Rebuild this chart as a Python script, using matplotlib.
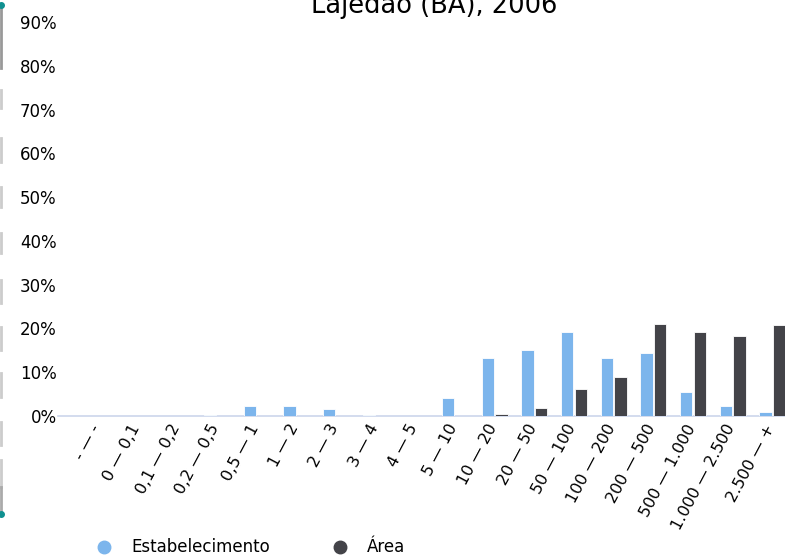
import matplotlib.pyplot as plt
import matplotlib.transforms as mtransforms
import numpy as np
from matplotlib.lines import Line2D

# faixas de area (ha)
categories = ['- — -', '0 — 0,1', '0,1 — 0,2', '0,2 — 0,5', '0,5 — 1', '1 — 2',
              '2 — 3', '3 — 4', '4 — 5', '5 — 10', '10 — 20', '20 — 50',
              '50 — 100', '100 — 200', '200 — 500', '500 — 1.000',
              '1.000 — 2.500', '2.500 — +']
estabelecimento = [0, 0, 0, 0.3, 2.3, 2.3, 1.6, 0.3, 0, 4.1, 13.2, 15.1,
                   19.1, 13.2, 14.5, 5.5, 2.3, 0.9]
area = [0, 0, 0, 0, 0, 0, 0, 0, 0, 0, 0.4, 1.8,
        6.1, 8.9, 21.0, 19.2, 18.3, 20.7]
yticks = [0, 10, 20, 30, 40, 50, 60, 70, 80, 90]

blue = '#7cb5ec'
dark = '#434348'

W, H = 785, 555
fig = plt.figure(figsize=(W / 100, H / 100), dpi=100)
ax = fig.add_axes([58 / W, 1 - 416 / H, (785 - 58) / W, (416 - 22) / H])

x = np.arange(len(categories))
bw = 0.31
ax.bar(x - bw / 2 - 0.02, estabelecimento, bw, color=blue, edgecolor='white', linewidth=0.6, zorder=3)
ax.bar(x + bw / 2 + 0.02, area, bw, color=dark, edgecolor='white', linewidth=0.6, zorder=3)

ax.set_xlim(-1.01, 17.32)
ax.set_ylim(0, 90)
ax.set_yticks(yticks)
ax.set_yticklabels([f'{v}%' for v in yticks], fontsize=12)
ax.set_xticks(x)
ax.set_xticklabels(categories, rotation=62, ha='right', rotation_mode='anchor', fontsize=11.5)
ax.tick_params(length=0, pad=4)
ax.tick_params(axis='y', pad=1)
shift = mtransforms.ScaledTranslation(-0.08, 0.0, fig.dpi_scale_trans)
for lab in ax.get_xticklabels():
    lab.set_transform(lab.get_transform() + shift)
for s in ['top', 'right', 'left']:
    ax.spines[s].set_visible(False)
ax.spines['bottom'].set_color('#ccd6eb')
ax.spines['bottom'].set_linewidth(1.2)
ax.patch.set_alpha(0)

fig.text(434 / W, 1 - 13 / H, 'Lajedão (BA), 2006', fontsize=18.5, ha='center', va='baseline')

# legenda
fig.add_artist(Line2D([104 / W], [1 - 547 / H], marker='o', markersize=9, color=blue, linestyle=''))
fig.text(131 / W, 1 - 547 / H, 'Estabelecimento', fontsize=12, va='center')
fig.add_artist(Line2D([340 / W], [1 - 547 / H], marker='o', markersize=9, color=dark, linestyle=''))
fig.text(367 / W, 1 - 547 / H, 'Área', fontsize=12, va='center')

# borda cortada a esquerda
segs = [(90, 108), (138, 162), (187, 207), (233, 253), (280, 303), (327, 350),
        (373, 397), (422, 445), (460, 487)]
fig.add_artist(Line2D([1 / W, 1 / W], [1 - 5 / H, 1 - 68 / H], color='#999999', lw=2))
for a, b in segs:
    fig.add_artist(Line2D([1 / W, 1 / W], [1 - a / H, 1 - b / H], color='#cccccc', lw=2))
fig.add_artist(Line2D([1 / W, 1 / W], [1 - 487 / H, 1 - 510 / H], color='#aaaaaa', lw=2))
fig.add_artist(Line2D([0.5 / W], [1 - 5 / H], marker='o', markersize=4, color='#109090', linestyle=''))
fig.add_artist(Line2D([0.5 / W], [1 - 514 / H], marker='o', markersize=4, color='#109090', linestyle=''))

fig.savefig('out.png', dpi=100)
